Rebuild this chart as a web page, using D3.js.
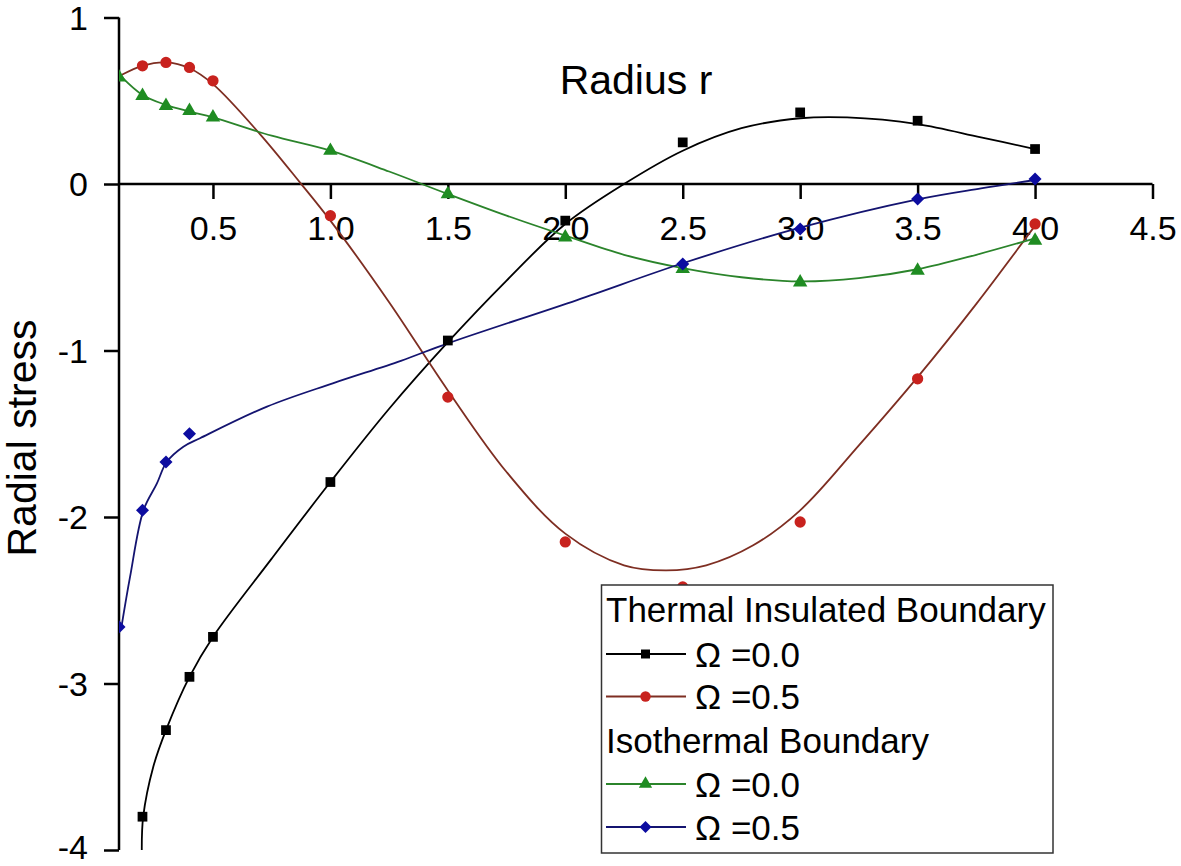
<!DOCTYPE html>
<html>
<head>
<meta charset="utf-8">
<script src="https://cdn.jsdelivr.net/npm/d3@7"></script>
<style>
  html, body { margin: 0; padding: 0; background: #fff; }
  svg { display: block; font-family: "Liberation Sans", Arial, sans-serif; }
</style>
</head>
<body>
<svg id="chart" width="1181" height="866"></svg>
<script>
// ---------- data ----------
const xTickValues = [0.5, 1.0, 1.5, 2.0, 2.5, 3.0, 3.5, 4.0, 4.5];
const xTickLabels = ["0.5", "1.0", "1.5", "2.0", "2.5", "3.0", "3.5", "4.0", "4.5"];
const yTickValues = [1, 0, -1, -2, -3, -4];
const yTickLabels = ["1", "0", "-1", "-2", "-3", "-4"];

// Thermal Insulated Boundary, Omega = 0.0 (black squares)
const ti00X = [0.2, 0.3, 0.4, 0.5, 1.0, 1.5, 2.0, 2.5, 3.0, 3.5, 4.0];
const ti00Y = [-3.80, -3.28, -2.96, -2.72, -1.79, -0.94, -0.22, 0.25, 0.43, 0.38, 0.21];
const ti00FitX = [0.197, 0.203, 0.246, 0.30, 0.40, 0.50, 0.75, 1.0, 1.25, 1.5, 1.75, 2.0, 2.25, 2.5, 2.75, 3.0, 3.2, 3.5, 3.77, 4.0];
const ti00FitY = [-4.0, -3.80, -3.50, -3.28, -2.96, -2.72, -2.25, -1.79, -1.35, -0.95, -0.58, -0.24, 0.0, 0.20, 0.335, 0.395, 0.40, 0.36, 0.28, 0.21];

// Thermal Insulated Boundary, Omega = 0.5 (red circles)
const ti05X = [0.2, 0.3, 0.4, 0.5, 1.0, 1.5, 2.0, 2.5, 3.0, 3.5, 4.0];
const ti05Y = [0.71, 0.73, 0.70, 0.62, -0.19, -1.28, -2.15, -2.42, -2.03, -1.17, -0.24];
const ti05FitX = [0.11, 0.2, 0.3, 0.4, 0.5, 0.7, 0.87, 1.0, 1.25, 1.5, 1.75, 2.0, 2.25, 2.43, 2.6, 2.8, 3.0, 3.25, 3.5, 3.75, 4.0];
const ti05FitY = [0.655, 0.71, 0.73, 0.695, 0.60, 0.30, 0.01, -0.22, -0.71, -1.24, -1.73, -2.10, -2.29, -2.32, -2.29, -2.17, -1.96, -1.57, -1.16, -0.72, -0.25];

// Isothermal Boundary, Omega = 0.0 (green triangles)
const iso00X = [0.1, 0.2, 0.3, 0.4, 0.5, 1.0, 1.5, 2.0, 2.5, 3.0, 3.5, 4.0];
const iso00Y = [0.64, 0.53, 0.47, 0.44, 0.40, 0.20, -0.06, -0.32, -0.51, -0.59, -0.52, -0.34];
const iso00FitX = [0.11, 0.2, 0.3, 0.4, 0.5, 0.75, 1.0, 1.25, 1.5, 1.75, 2.0, 2.25, 2.5, 2.75, 3.0, 3.25, 3.5, 3.75, 4.0];
const iso00FitY = [0.645, 0.535, 0.475, 0.435, 0.40, 0.29, 0.20, 0.075, -0.06, -0.19, -0.31, -0.425, -0.505, -0.56, -0.585, -0.565, -0.512, -0.425, -0.326];

// Isothermal Boundary, Omega = 0.5 (blue diamonds)
const iso05X = [0.1, 0.2, 0.3, 0.4, 2.5, 3.0, 3.5, 4.0];
const iso05Y = [-2.66, -1.96, -1.67, -1.50, -0.48, -0.27, -0.09, 0.03];
const iso05FitX = [0.11, 0.147, 0.204, 0.261, 0.303, 0.374, 0.445, 0.73, 1.01, 1.3, 1.5, 2.05, 2.5, 3.0, 3.5, 3.77, 4.0];
const iso05FitY = [-2.665, -2.36, -1.96, -1.80, -1.67, -1.578, -1.527, -1.337, -1.197, -1.062, -0.957, -0.697, -0.476, -0.262, -0.092, -0.026, 0.024];

const seriesNames = ["Ω =0.0", "Ω =0.5", "Ω =0.0", "Ω =0.5"];
const groupTitles = ["Thermal Insulated Boundary", "Isothermal Boundary"];

// ---------- styles ----------
const styles = [
  { line: "#000000", fill: "#000000", symbol: d3.symbolSquare, size: 95, rot: 0 },
  { line: "#7e2e22", fill: "#c8221e", symbol: d3.symbolCircle, size: 100, rot: 0 },
  { line: "#2b842b", fill: "#1f8c22", symbol: d3.symbolTriangle, size: 90, rot: 0 },
  { line: "#141470", fill: "#0c0ca0", symbol: d3.symbolSquare, size: 85, rot: 45 }
];

const series = [
  { px: ti00X, py: ti00Y, fx: ti00FitX, fy: ti00FitY },
  { px: ti05X, py: ti05Y, fx: ti05FitX, fy: ti05FitY },
  { px: iso00X, py: iso00Y, fx: iso00FitX, fy: iso00FitY },
  { px: iso05X, py: iso05Y, fx: iso05FitX, fy: iso05FitY }
];

// ---------- scales ----------
const svg = d3.select("#chart");
const x = d3.scaleLinear().domain([0.1, 4.5]).range([119, 1152.5]);
const y = d3.scaleLinear().domain([-4, 1]).range([850, 17.5]);

svg.append("defs").append("clipPath").attr("id", "plotclip")
  .append("rect").attr("x", x(0.1)).attr("y", 0).attr("width", 1181 - x(0.1)).attr("height", 866);

// ---------- axes ----------
const axisColor = "#000";
const xMinor = d3.range(0.25, 4.5, 0.5);
const xAxisMajor = d3.axisBottom(x).tickValues(xTickValues).tickFormat((d, i) => xTickLabels[i]).tickSize(15);
const xAxisMinor = d3.axisBottom(x).tickValues(xMinor).tickFormat("").tickSize(9);
const gx = svg.append("g").attr("transform", `translate(0,${y(0)})`);
gx.call(xAxisMinor);
gx.call(xAxisMajor);
gx.selectAll(".domain").remove();
gx.selectAll("line").attr("stroke", axisColor).attr("stroke-width", 2.5);
gx.selectAll("text").attr("font-size", 34).attr("fill", "#000")
  .attr("font-family", "'Liberation Sans', Arial, sans-serif").attr("dy", 0).attr("y", 56);
gx.append("line").attr("x1", x(0.1)).attr("x2", x(4.5)).attr("y1", 0).attr("y2", 0)
  .attr("stroke", axisColor).attr("stroke-width", 2.5);

const yMinor = d3.range(-3.5, 1, 1);
const yAxisMajor = d3.axisLeft(y).tickValues(yTickValues).tickFormat((d, i) => yTickLabels[i]).tickSize(15).tickPadding(16);
const yAxisMinor = d3.axisLeft(y).tickValues(yMinor).tickFormat("").tickSize(9);
const gy = svg.append("g").attr("transform", `translate(${x(0.1)},0)`);
gy.call(yAxisMinor);
gy.call(yAxisMajor);
gy.selectAll(".domain").remove();
gy.selectAll("line").attr("stroke", axisColor).attr("stroke-width", 2.5);
gy.selectAll("text").attr("font-size", 34).attr("fill", "#000")
  .attr("font-family", "'Liberation Sans', Arial, sans-serif")
  .attr("dy", d => d === -4 ? "0.24em" : "0.34em");
gy.append("line").attr("x1", 0).attr("x2", 0).attr("y1", y(1)).attr("y2", y(-4))
  .attr("stroke", axisColor).attr("stroke-width", 2.5);

// axis titles
svg.append("text").attr("x", 636).attr("y", 94).attr("text-anchor", "middle")
  .attr("font-size", 41).attr("fill", "#000").text("Radius r");
svg.append("text").attr("transform", "translate(36,438) rotate(-90)").attr("text-anchor", "middle")
  .attr("font-size", 41).attr("fill", "#000").text("Radial stress");

// ---------- data marks ----------
const plot = svg.append("g").attr("clip-path", "url(#plotclip)");
const lineGen = d3.line().x(d => x(d[0])).y(d => y(d[1])).curve(d3.curveCatmullRom.alpha(0.5));

series.forEach((s, i) => {
  const fit = s.fx.map((v, k) => [v, s.fy[k]]);
  plot.append("path").datum(fit).attr("d", lineGen)
    .attr("fill", "none").attr("stroke", styles[i].line).attr("stroke-width", 1.8);
});
series.forEach((s, i) => {
  const pts = s.px.map((v, k) => [v, s.py[k]]);
  const sym = d3.symbol().type(styles[i].symbol).size(styles[i].size);
  plot.selectAll(null).data(pts).enter().append("path")
    .attr("d", sym)
    .attr("transform", d => `translate(${x(d[0])},${y(d[1])}) rotate(${styles[i].rot})`)
    .attr("fill", styles[i].fill);
});

// ---------- legend ----------
const lg = svg.append("g");
lg.append("rect").attr("x", 601.5).attr("y", 585).attr("width", 451.5).attr("height", 268)
  .attr("fill", "#fff").attr("stroke", "#333").attr("stroke-width", 1.5);
const rowBase = [622, 666.5, 709, 752.5, 796.5, 839.5];
const rows = [
  { type: "title", text: groupTitles[0] },
  { type: "item", s: 0 },
  { type: "item", s: 1 },
  { type: "title", text: groupTitles[1] },
  { type: "item", s: 2 },
  { type: "item", s: 3 }
];
rows.forEach((r, i) => {
  const b = rowBase[i];
  if (r.type === "title") {
    lg.append("text").attr("x", 606).attr("y", b).attr("font-size", 35).attr("fill", "#000").text(r.text);
  } else {
    const st = styles[r.s];
    const ly = b - 12.5;
    lg.append("line").attr("x1", 606).attr("x2", 686).attr("y1", ly).attr("y2", ly)
      .attr("stroke", st.line).attr("stroke-width", 1.8);
    lg.append("path").attr("d", d3.symbol().type(st.symbol).size(st.size * 0.85)())
      .attr("transform", `translate(645.5,${ly}) rotate(${st.rot})`).attr("fill", st.fill);
    lg.append("text").attr("x", 695).attr("y", b).attr("font-size", 35).attr("fill", "#000")
      .text(seriesNames[r.s]);
  }
});
</script>
</body>
</html>
